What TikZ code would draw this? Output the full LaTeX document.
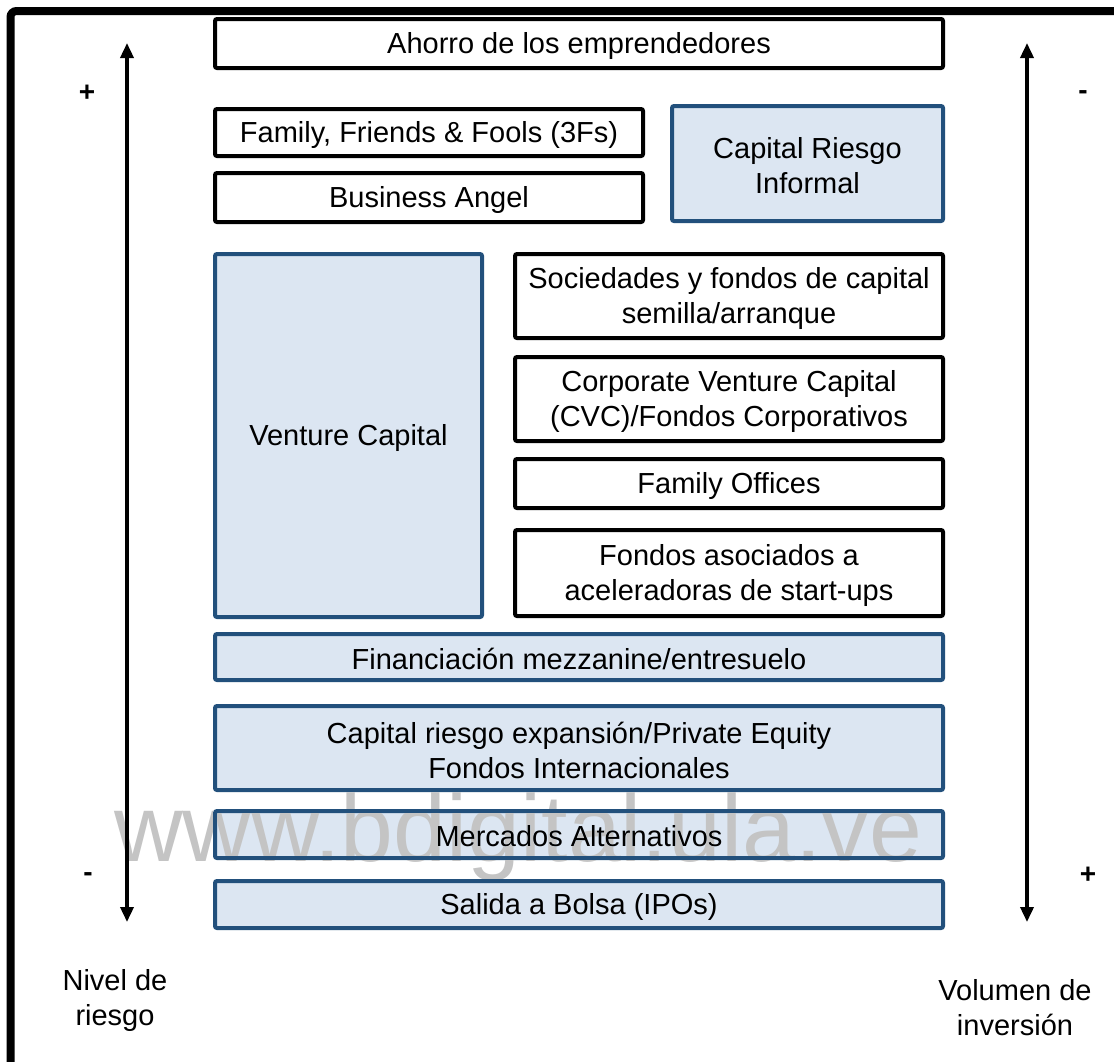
\documentclass[tikz,border=0pt]{standalone}
\usepackage{fontspec}
\setmainfont{Liberation Sans}
\usetikzlibrary{arrows.meta}
\definecolor{boxblue}{HTML}{DCE6F2}
\definecolor{edgeblue}{HTML}{22507C}
\definecolor{wmgray}{HTML}{C4C4C4}
\tikzset{
  lbl/.style={font=\fontsize{29}{35}\selectfont, align=center, text=black},
  wbox/.style={draw=black, line width=4pt, fill=white, rounded corners=2pt,
    inner sep=0pt},
  bbox/.style={draw=edgeblue, line width=4pt, fill=boxblue, rounded corners=2pt,
    inner sep=0pt},
  scale arrow/.style={line width=3.5pt,
    {Triangle[width=13pt,length=15pt]}-{Triangle[width=13pt,length=15pt]}},
  sign/.style={font=\fontsize{28}{30}\selectfont\bfseries},
}
\newcommand{\boxat}[7]{% style, name, x1, y1, x2, y2, text
  \node[#1, minimum width={#5-#3}, minimum height={#6-#4}] (#2) at ({(#3+#5)/2},{(#4+#6)/2}) {};
  \node[lbl] (#2-text) at ([yshift=-2pt]#2.center) {#7};}
\begin{document}
\begin{tikzpicture}[x=1pt,y=-1pt]
\useasboundingbox (0,0) rectangle (1114,1061);
\clip (0,0) rectangle (1114,1061);
\fill[white] (0,0) rectangle (1114,1061);

% outer frame
\draw[line width=8pt, rounded corners=6pt] (10.5,1080) -- (10.5,11) -- (1130,11);

% financing sources
\boxat{wbox}{ahorro}{215}{19}{943}{68}{Ahorro de los emprendedores}
\boxat{wbox}{fff}{215}{109}{643}{156}{Family, Friends \& Fools (3Fs)}
\boxat{wbox}{angel}{215}{173}{643}{222}{Business Angel}
\boxat{bbox}{informal}{672}{106}{943}{221}{Capital Riesgo\\Informal}
\boxat{bbox}{vc}{215}{254}{482}{617}{Venture Capital}
\boxat{wbox}{semilla}{515}{254}{943}{338}{Sociedades y fondos de capital\\semilla/arranque}
\boxat{wbox}{cvc}{515}{357}{943}{441}{Corporate Venture Capital\\(CVC)/Fondos Corporativos}
\boxat{wbox}{offices}{515}{459}{943}{508}{Family Offices}
\boxat{wbox}{acel}{515}{530}{943}{616}{Fondos asociados a\\aceleradoras de start-ups}
\boxat{bbox}{mezz}{215}{634}{943}{680}{Financiación mezzanine/entresuelo}
\boxat{bbox}{pe}{215}{706}{943}{790}{Capital riesgo expansión/Private Equity\\Fondos Internacionales}
\boxat{bbox}{mab}{215}{811}{943}{858}{Mercados Alternativos}
\boxat{bbox}{ipo}{215}{881}{943}{928}{Salida a Bolsa (IPOs)}

% risk and volume scales
\coordinate (rtop) at (127,43);
\coordinate (rbot) at (127,922);
\coordinate (vtop) at (1027,43);
\coordinate (vbot) at (1027,922);
\draw[scale arrow] (rbot) -- (rtop);
\draw[scale arrow] (vbot) -- (vtop);

\node[sign] (rplus) at (87,93) {+};
\node[sign] (rminus) at (88,877) {-};
\node[sign] (vminus) at (1083,95) {-};
\node[sign] (vplus) at (1088,875) {+};

\node[lbl, anchor=base] (riesgo) at (115,1025) {Nivel de\\riesgo};
\node[lbl, anchor=base] (volumen) at (1015,1035) {Volumen de\\inversión};

% site mark, darkened onto whatever lies below it
\node[font=\fontsize{95}{95}\selectfont, text=wmgray, anchor=base, blend mode=darken,
  inner sep=0pt] (mark) at (518,861) {www.bdigital.ula.ve};
\end{tikzpicture}
\end{document}
